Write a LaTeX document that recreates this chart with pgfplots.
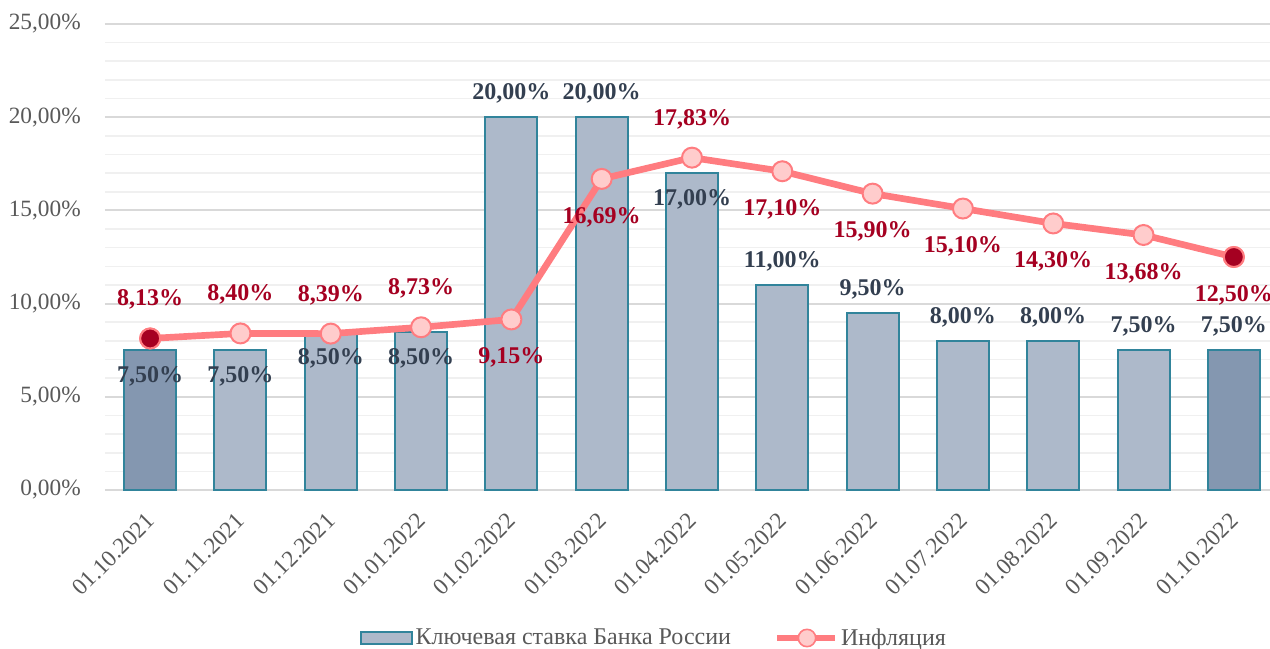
\documentclass[border=0pt]{standalone}
\usepackage{fontspec}
\setmainfont{Liberation Serif}
\usepackage{pgfplots}
\pgfplotsset{compat=1.18}
\definecolor{barfill}{HTML}{ADB9CA}
\definecolor{bardark}{HTML}{8497B0}
\definecolor{baredge}{HTML}{31849B}
\definecolor{infl}{HTML}{FF7C80}
\definecolor{inflfill}{HTML}{FFCCCC}
\definecolor{infldark}{HTML}{A50021}
\definecolor{barlab}{HTML}{333F50}
\definecolor{axlab}{HTML}{595959}
\definecolor{majgrid}{HTML}{D9D9D9}
\definecolor{mingrid}{HTML}{F0F0F0}
\begin{document}
\begin{tikzpicture}
\path[use as bounding box] (-78.75pt,-119.25pt) rectangle (873.75pt,367.5pt);
\begin{axis}[
  at={(0pt,0pt)}, anchor=south west,
  scale only axis,
  width=880.5pt, height=349.5pt,
  xmin=-0.5, xmax=12.5, ymin=0, ymax=25,
  xtick={0,1,2,3,4,5,6,7,8,9,10,11,12},
  xticklabels={01.10.2021,01.11.2021,01.12.2021,01.01.2022,01.02.2022,01.03.2022,01.04.2022,01.05.2022,01.06.2022,01.07.2022,01.08.2022,01.09.2022,01.10.2022},
  ytick={0,5,10,15,20,25},
  yticklabels={{0,00\%},{5,00\%},{10,00\%},{15,00\%},{20,00\%},{25,00\%}},
  minor ytick={1,2,3,4,6,7,8,9,11,12,13,14,16,17,18,19,21,22,23,24},
  ymajorgrids, yminorgrids,
  major grid style={majgrid, line width=1.5pt},
  minor grid style={mingrid, line width=1.2pt},
  axis line style={draw=none},
  tick style={draw=none},
  minor tick style={draw=none},
  ticklabel style={font=\fontsize{17.5}{20}\selectfont, text=axlab},
  xticklabel style={anchor=north east, inner sep=0pt, xshift=-4pt, yshift=-16pt, rotate=45},
  yticklabel style={anchor=east, inner sep=0pt, xshift=-18pt},
  legend style={at={(0.468,-0.3176)}, anchor=center, draw=none, fill=none,
    legend columns=2, font=\fontsize{18}{20}\selectfont, text=axlab,
    /tikz/every even column/.append style={column sep=30pt}},
  clip=false,
]
% bars
\addplot[ybar, bar width=39pt, fill=barfill, draw=baredge, line width=1.5pt,
  legend image code/.code={\draw[fill=barfill, draw=baredge, line width=1.5pt] (0pt,-4.8pt) rectangle (38pt,4.8pt);}]
coordinates {(0,7.50) (1,7.50) (2,8.50) (3,8.50) (4,20.00) (5,20.00) (6,17.00) (7,11.00) (8,9.50) (9,8.00) (10,8.00) (11,7.50) (12,7.50)};
\addlegendentry{Ключевая ставка Банка России}
\addplot[ybar, bar width=39pt, fill=bardark, draw=baredge, line width=1.5pt, forget plot]
coordinates {(0,7.50) (12,7.50)};
% inflation line
\addplot[color=infl, line width=5pt, mark=*, mark size=7.5pt,
  mark options={fill=inflfill, draw=infl, line width=1.5pt},
  legend image code/.code={\draw[infl, line width=5pt] (0pt,0pt) -- (43.5pt,0pt);
    \draw[fill=inflfill, draw=infl, line width=1.2pt] (22.5pt,0pt) circle (6.5pt);}]
coordinates {(0,8.13) (1,8.40) (2,8.39) (3,8.73) (4,9.15) (5,16.69) (6,17.83) (7,17.10) (8,15.90) (9,15.10) (10,14.30) (11,13.68) (12,12.50)};
\addlegendentry{Инфляция}
\addplot[only marks, mark=*, mark size=7.5pt, mark options={fill=infldark, draw=infl, line width=1.5pt}, forget plot]
coordinates {(0,8.13) (12,12.50)};
% bar labels inside
\addplot[only marks, mark=none, forget plot, point meta=y,
  nodes near coords={\pgfmathprintnumber[fixed,fixed zerofill,precision=2,use comma,assume math mode=true]{\pgfplotspointmeta}\%},
  nodes near coords style={anchor=center, yshift=-20pt, font=\fontsize{18}{20}\selectfont\bfseries, text=barlab, inner sep=0pt}]
coordinates {(0,7.50) (1,7.50) (2,8.50) (3,8.50) (6,17.00)};
% bar labels above
\addplot[only marks, mark=none, forget plot, point meta=y,
  nodes near coords={\pgfmathprintnumber[fixed,fixed zerofill,precision=2,use comma,assume math mode=true]{\pgfplotspointmeta}\%},
  nodes near coords style={anchor=center, yshift=18pt, font=\fontsize{18}{20}\selectfont\bfseries, text=barlab, inner sep=0pt}]
coordinates {(4,20.00) (5,20.00) (7,11.00) (8,9.50) (9,8.00) (10,8.00) (11,7.50) (12,7.50)};
% inflation labels above
\addplot[only marks, mark=none, forget plot, point meta=y,
  nodes near coords={\pgfmathprintnumber[fixed,fixed zerofill,precision=2,use comma,assume math mode=true]{\pgfplotspointmeta}\%},
  nodes near coords style={anchor=center, yshift=29pt, font=\fontsize{18}{20}\selectfont\bfseries, text=infldark, inner sep=0pt}]
coordinates {(0,8.13) (1,8.40) (2,8.39) (3,8.73) (6,17.83)};
% inflation labels below
\addplot[only marks, mark=none, forget plot, point meta=y,
  nodes near coords={\pgfmathprintnumber[fixed,fixed zerofill,precision=2,use comma,assume math mode=true]{\pgfplotspointmeta}\%},
  nodes near coords style={anchor=center, yshift=-28.5pt, font=\fontsize{18}{20}\selectfont\bfseries, text=infldark, inner sep=0pt}]
coordinates {(4,9.15) (5,16.69) (7,17.10) (8,15.90) (9,15.10) (10,14.30) (11,13.68) (12,12.50)};
\end{axis}
\end{tikzpicture}
\end{document}
